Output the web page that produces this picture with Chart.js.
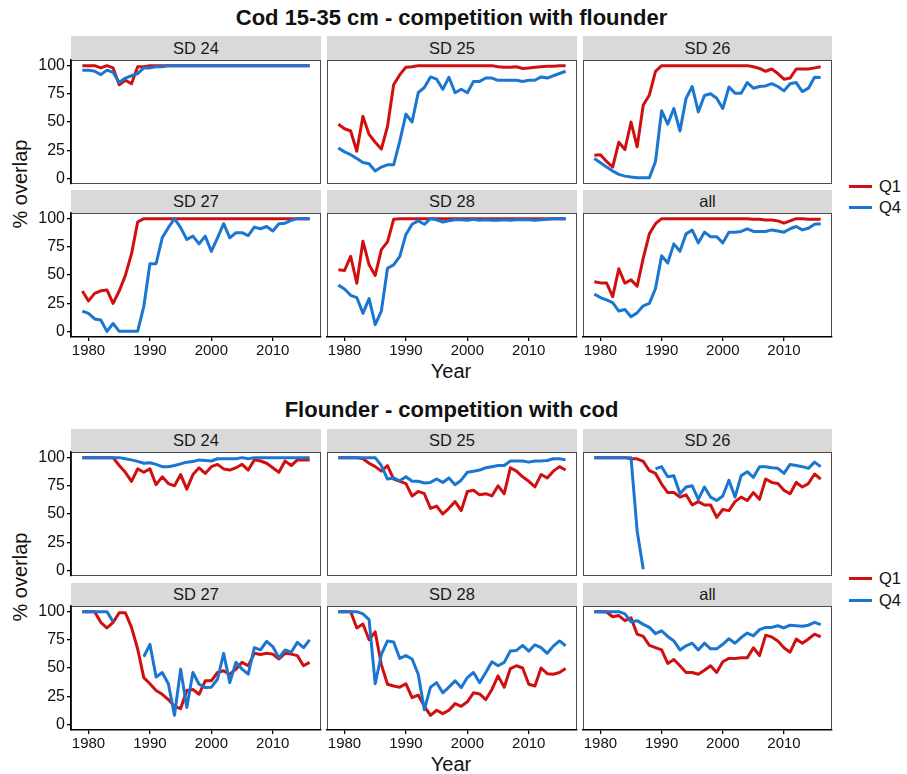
<!DOCTYPE html>
<html><head><meta charset="utf-8">
<script src="https://cdn.jsdelivr.net/npm/chart.js@4/dist/chart.umd.min.js"></script>
<style>
body{margin:0;background:#fff;}
#wrap{position:relative;width:907px;height:774px;overflow:hidden;font-family:"Liberation Sans",Arial,sans-serif;color:#111;}
.title{position:absolute;left:0;width:903px;text-align:center;font-weight:bold;font-size:22px;line-height:26px;}
.strip{position:absolute;background:#d9d9d9;text-align:center;font-size:16.5px;color:#1a1a1a;}
.axt{position:absolute;font-size:20px;line-height:22px;white-space:nowrap;transform:translate(-50%,-50%);}
.rot{transform:translate(-50%,-50%) rotate(-90deg);}
.lk{position:absolute;height:3px;width:23px;}
.ll{position:absolute;font-size:16.5px;line-height:18px;}
canvas{position:absolute;}
</style></head>
<body><div id="wrap"></div>
<script>
const years = [1979,1980,1981,1982,1983,1984,1985,1986,1987,1988,1989,1990,1991,1992,1993,1994,1995,1996,1997,1998,1999,2000,2001,2002,2003,2004,2005,2006,2007,2008,2009,2010,2011,2012,2013,2014,2015,2016];
const xTicks = [1980,1990,2000,2010];
const yTicks = [0,25,50,75,100];
const facets = ["SD 24","SD 25","SD 26","SD 27","SD 28","all"];
const seriesNames = ["Q1","Q4"];
const groupTitles = ["Cod 15-35 cm - competition with flounder","Flounder - competition with cod"];

// Cod 15-35 cm - competition with flounder
const cod_SD24_Q1 = [100,100,100,98,100,98,83,87,84,99,99,100,100,100,100,100,100,100,100,100,100,100,100,100,100,100,100,100,100,100,100,100,100,100,100,100,100,100];
const cod_SD24_Q4 = [96,96,95,92,96,94,85,89,91,93,98,98,99,99,100,100,100,100,100,100,100,100,100,100,100,100,100,100,100,100,100,100,100,100,100,100,100,100];
const cod_SD25_Q1 = [48,44,42,24,55,39,32,26,46,83,92,98.5,99,100,100,100,100,100,100,100,100,100,100,100,100,100,99,98.5,98.5,99,97.5,98,98.5,99,99.5,99.5,100,100];
const cod_SD25_Q4 = [27,23.5,21,17.6,14,13,6.5,10,12,12,33,57,50,76,80.6,90,88,79,89.7,76,79,76,86,86,89,89,87,87,87,87,86,87,87,90,89,91,93,95];
const cod_SD26_Q1 = [20.6,21,15,10,32,25.6,50,28,65,74,95,100,100,100,100,100,100,100,100,100,100,100,100,100,100,100,99,97.5,95,97,93,88,89,97,97,97,98,99];
const cod_SD26_Q4 = [17.6,13.8,10,6.5,3.5,2,1.2,0.6,0.5,0.5,15,60,48,62,42,71,81.5,59,73.5,75,71,62,81,75.6,75.6,85,80,81.5,82,84,81.5,77.6,84,85,77,80,89.7,89.4];
const cod_SD27_Q1 = [35.8,27,33.7,36,36.7,24.8,35.8,49.6,68.7,97,100,100,100,100,100,100,100,100,100,100,100,100,100,100,100,100,100,100,100,100,100,100,100,100,100,100,100,100];
const cod_SD27_Q4 = [18,16,11,10,0,7,0,0,0,0,22,60,60,83,92,100,92,81.5,84.5,77.6,84.5,71,83,95.5,83,87.5,87.5,85,92.5,91,93,89,95.5,96,98.5,100,100,100];
const cod_SD28_Q1 = [54.6,54,66.6,42.7,80,59,49.6,72.5,79.4,99.4,100,100,100,100,100,100,100,100,100,100,100,100,100,100,100,100,100,100,100,100,100,100,100,100,100,100,100,100];
const cod_SD28_Q4 = [41,37.6,32,30,16,29,6,18,56,59,66.6,86,95,98,95,100,99,97,98,99,99,98.5,99.5,98.5,99,98.5,98.5,99,98.5,99,99,99,98.5,99,99.5,100,100,100];
const cod_all_Q1 = [44,43,43,30.7,55.5,42.7,45.7,40,65,86.5,95.5,100,100,100,100,100,100,100,100,100,100,100,100,100,100,100,99.4,99.4,98.8,98.8,98,96,98,100,100,99.5,99.5,99.5];
const cod_all_Q4 = [33,30,28,25.6,18,19.4,13,16.4,22.7,24.8,38,67,60.6,77.6,71,86.5,89.8,78.5,88,84,84,78.5,88,88,88.6,91,88.6,88.6,88.6,90,89,88,91,93,90,91.5,95,95.5];

// Flounder - competition with cod
const fl_SD24_Q1 = [100,100,100,100,100,100,93,87,79,90,87,90,76,83,77,75,85,72,85,91,86,92,94,90,89,91,94,89,98,97,95,91,87,97,93,98,98,98];
const fl_SD24_Q4 = [100,100,100,100,100,100,100,99,98,96.7,95,95.5,94,92,92,93,94.5,96,96.5,98,97.5,97,99,99,99,99,100,99,100,100,100,100,100,100,100,100,100,100];
const fl_SD25_Q1 = [100,100,100,100,99,95,92,88,93,81,79,77,66,70,68,55,57,50,55,61,53,70,71,67,68,66,75,68,91,88,83,79,74,85,82,88,92,89];
const fl_SD25_Q4 = [100,100,100,100,100,100,100,93,81,82,79.5,83,79,79,77.5,78,81,78,82,76,80,87,88,89,91,92,93,93,97,97,97,96,97,97,97.5,99,99,98];
const fl_SD26_Q1 = [100,100,100,100,100,100,99,99,96.7,88.4,86,76.6,69,69,65,67,58,61,58,58,47,54,53,61,65,62,69,63,81,78,77,71,68,78,74,77,85.5,81];
const fl_SD26_Q4 = [100,100,100,100,100,100,100,35,1,null,90,92,83,84,68,74,75,63,74,65,62,66,80,65,84,87.5,82.5,92,92,91,90.5,86,94,93,92,90.5,96,92];
const fl_SD27_Q1 = [100,100,100,90.5,85.5,90.5,99,99,86,67,41.5,36,30,26.7,22,16,14,30,31,26.7,38.6,38.6,46,47.5,44.5,49,55,52,63,62,63,62.3,58,63,62.3,61,52,55];
const fl_SD27_Q4 = [100,100,100,100,100,91,null,null,null,null,60,71,42,46,36,8,49,15,46,35.6,32.6,33,40,63,37,55,49,44.5,68,66,73.6,69,59,66,64,72.7,68,75];
const fl_SD28_Q1 = [100,100,100,85.5,89,75,82,53,35.6,34,33,36,23.7,26,16,8,12.5,9.5,12.5,18.4,16,20,28,27,22,31,43,33,49.5,52,50,35.6,34,50,45,44.5,46,49.5];
const fl_SD28_Q4 = [100,100,100,100,98,93,36,62,74,73,58.5,61,58,44.5,13,33,37,28,33,38.6,32.6,41.5,46,37,46,55.5,52,55,65,65.6,70,65,70.6,68,63,69.4,74,69.7];
const fl_all_Q1 = [100,100,99.7,95.5,96.5,92,94.5,80,78,70,68,66,54,57.5,52,46,46,44.5,48,52,46,55.5,58.5,58.5,59,59,68,61,79,77.6,74,68,64,75.7,72,75.7,80,77.6];
const fl_all_Q4 = [100,100,100,100,100,98,91,92,88.7,86,80.5,83,78,74,66,69.7,72,66,72,67,67,71,76,72,77,81,78.5,84,86,86,87.5,85.5,88,87.5,87,88,90.5,88.5];

const groupData = [
  [[cod_SD24_Q1,cod_SD24_Q4],[cod_SD25_Q1,cod_SD25_Q4],[cod_SD26_Q1,cod_SD26_Q4],[cod_SD27_Q1,cod_SD27_Q4],[cod_SD28_Q1,cod_SD28_Q4],[cod_all_Q1,cod_all_Q4]],
  [[fl_SD24_Q1,fl_SD24_Q4],[fl_SD25_Q1,fl_SD25_Q4],[fl_SD26_Q1,fl_SD26_Q4],[fl_SD27_Q1,fl_SD27_Q4],[fl_SD28_Q1,fl_SD28_Q4],[fl_all_Q1,fl_all_Q4]]
];

// ---- layout / style ----
const RED = '#D01010', BLUE = '#1A76D0';
const FONT = '"Liberation Sans", Arial, sans-serif';
const colL = [71, 327, 583], colW = [250, 250, 249];
const PH = 124;
const layoutG = [
  {title: 5, plotTop: [60, 213], stripTop: [36, 190], stripH: [24, 23], ylab: 184, xlab: 371, leg: [186, 207]},
  {title: 397, plotTop: [452, 606], stripTop: [429, 583], stripH: [23, 23], ylab: 577, xlab: 764, leg: [578, 600]}
];
const wrap = document.getElementById('wrap');
function el(cls, css, txt){ const d=document.createElement('div'); d.className=cls; Object.assign(d.style, css); if(txt!==undefined) d.textContent=txt; wrap.appendChild(d); return d; }

const boxPlugin = {id:'box', beforeDraw(chart){ const a=chart.chartArea, c=chart.ctx; c.save(); c.strokeStyle='#4d4d4d'; c.lineWidth=1; c.strokeRect(a.left+0.5, a.top+0.5, a.right-a.left-1, a.bottom-a.top-1); c.restore(); }};

const PAD = 16, YW = 50, XH = 26;
function panel(g, idx){
  const col = idx % 3, row = Math.floor(idx / 3);
  const L = colL[col], W = colW[col], T = layoutG[g].plotTop[row];
  const showY = col === 0, showX = row === 1;
  el('strip', {left: L+'px', top: layoutG[g].stripTop[row]+'px', width: W+'px', height: layoutG[g].stripH[row]+'px', lineHeight: layoutG[g].stripH[row]+'px'}, facets[idx]);
  const cv = document.createElement('canvas');
  const left = showY ? L - YW : L - PAD;
  const width = W + PAD + (showY ? YW : PAD);
  const top = T - PAD;
  const height = PH + PAD + (showX ? XH : PAD);
  cv.width = width; cv.height = height;
  cv.style.left = left+'px'; cv.style.top = top+'px'; cv.style.width = width+'px'; cv.style.height = height+'px';
  wrap.appendChild(cv);
  const [q1, q4] = groupData[g][idx];
  const pts = arr => years.map((y, i) => ({x: y, y: arr[i]}));
  new Chart(cv, {
    type: 'line',
    data: {datasets: [
      {label: seriesNames[1], data: pts(q4), borderColor: BLUE, order: 0},
      {label: seriesNames[0], data: pts(q1), borderColor: RED, order: 1}
    ]},
    options: {
      responsive: false, animation: false, devicePixelRatio: 1,
      layout: {padding: {top: PAD, right: PAD, bottom: showX ? 0 : PAD, left: showY ? 0 : PAD}},
      plugins: {legend: {display: false}, tooltip: {enabled: false}},
      elements: {point: {radius: 0}, line: {borderWidth: 3, tension: 0, borderJoinStyle: 'round', borderCapStyle: 'butt'}},
      spanGaps: false,
      scales: {
        x: {type: 'linear', min: 1977.15, max: 2017.85, display: showX,
            afterBuildTicks: s => { s.ticks = xTicks.map(v => ({value: v})); },
            afterFit: s => { if (showX) s.height = XH; },
            grid: {drawOnChartArea: false, drawTicks: true, tickLength: 4, color: '#000', lineWidth: 1.3},
            border: {display: true, color: '#000', width: 1.5},
            ticks: {font: {family: FONT, size: 15}, color: '#111', padding: 1, maxRotation: 0, autoSkip: false, callback: v => String(v)}},
        y: {min: -5, max: 105, display: showY,
            afterBuildTicks: s => { s.ticks = yTicks.map(v => ({value: v})); },
            afterFit: s => { if (showY) s.width = YW; },
            grid: {drawOnChartArea: false, drawTicks: true, tickLength: 4, color: '#000', lineWidth: 1.3},
            border: {display: true, color: '#000', width: 1.5},
            ticks: {font: {family: FONT, size: 16}, color: '#111', padding: 2, autoSkip: false, callback: v => String(v)}}
      }
    },
    plugins: [boxPlugin]
  });
}

for (let g = 0; g < 2; g++) {
  const G = layoutG[g];
  el('title', {top: G.title+'px'}, groupTitles[g]);
  el('axt rot', {left: '20px', top: G.ylab+'px'}, '% overlap');
  el('axt', {left: '451px', top: G.xlab+'px'}, 'Year');
  for (let i = 0; i < 2; i++) {
    const col = i === 0 ? RED : BLUE;
    el('lk', {left: '849px', top: (G.leg[i]-1.5)+'px', background: col});
    el('ll', {left: '879px', top: (G.leg[i]-9)+'px'}, seriesNames[i]);
  }
  for (let k = 0; k < 6; k++) panel(g, k);
}
</script>
</body></html>
